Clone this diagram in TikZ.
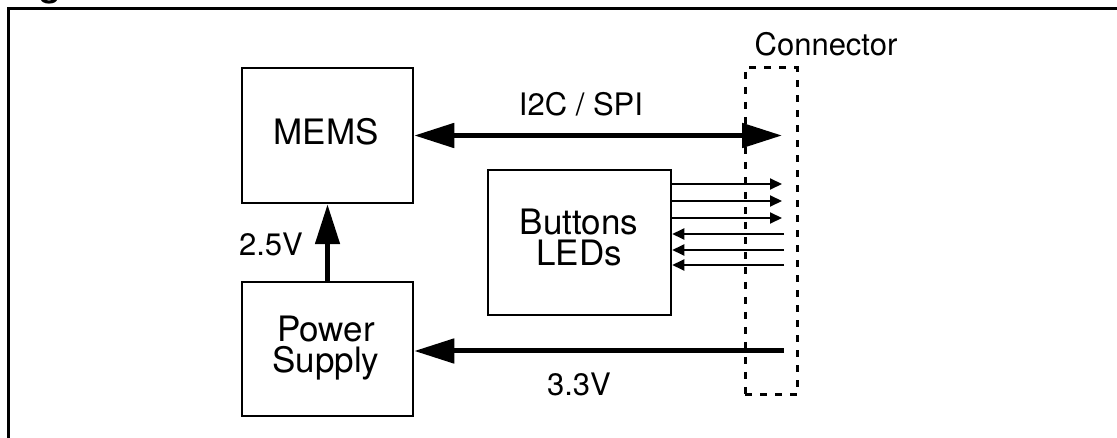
\documentclass[tikz,border=0pt]{standalone}
\usepackage{fontspec}
\setmainfont{TeX Gyre Heros}
\usetikzlibrary{arrows.meta}
\newcommand{\boxfont}{\fontsize{35}{31}\selectfont}
\newcommand{\lblfont}{\fontsize{31}{33}\selectfont}

\begin{document}
\begin{tikzpicture}[x=1pt, y=-1pt]
 % styles for the blocks, the buses and the thin signal lines
 \tikzset{block/.style={draw, line width=2.5pt, inner sep=0pt},
  blocktext/.style={font=\boxfont, align=center, inner sep=0pt},
  bus/.style={line width=5pt},
  wire/.style={line width=2pt, -{Triangle[length=12pt,width=11pt]}},
  lbl/.style={font=\lblfont, inner sep=0pt},
  >={Triangle[length=40pt,width=24pt]}}

 \useasboundingbox (0,0) rectangle (1117,438);

 %outer frame with the cut caption above it
 \node[font=\boxfont\bfseries, anchor=base west, inner sep=0pt] (caption) at (8,-3) {Figure};
 \draw[line width=3pt] (8,438) -- (8,9) -- (1117,9);

 %draw blocks
 \node[block, minimum width=171pt, minimum height=135pt] (mems) at (327.5,135.5) {};
 \node[blocktext] (memstext) at (326,131.5) {MEMS};
 \node[block, minimum width=171pt, minimum height=134pt] (psu) at (327.5,349) {};
 \node[blocktext] (psutext) at (326,348.5) {Power\\Supply};
 \node[block, minimum width=183pt, minimum height=145pt] (btn) at (579.5,242.5) {};
 \node[blocktext] (btntext) at (579,237.5) {Buttons\\LEDs};

 %connector outline
 \node[draw, line width=3pt, dash pattern=on 7pt off 8pt, minimum width=52pt, minimum height=327pt, inner sep=0pt] (conn) at (771,231.5) {};
 \node[lbl] (connlabel) at (826,44) {Connector};

 %bus arrows
 \coordinate (i2cend) at (782,135.5);
 \draw[bus, <->] (mems.east) -- (i2cend);
 \node[lbl] (i2clabel) at (581,104) {I2C / SPI};

 \draw[bus, ->] (psu.north) -- (mems.south);
 \node[lbl] (v25label) at (271,244) {2.5V};

 \coordinate (v33start) at (784,351);
 \draw[bus, ->] (v33start) -- (v33start -| psu.east);
 \node[lbl] (v33label) at (579,384.5) {3.3V};

 %signal lines between buttons and connector
 \foreach \y in {184,201,218} {
  \coordinate (out\y) at (782,\y);
  \draw[wire] (btn.east |- out\y) -- (out\y);
 }
 \foreach \y in {234,250,265} {
  \coordinate (in\y) at (784,\y);
  \draw[wire] (in\y) -- (in\y -| btn.east);
 }
\end{tikzpicture}
\end{document}
